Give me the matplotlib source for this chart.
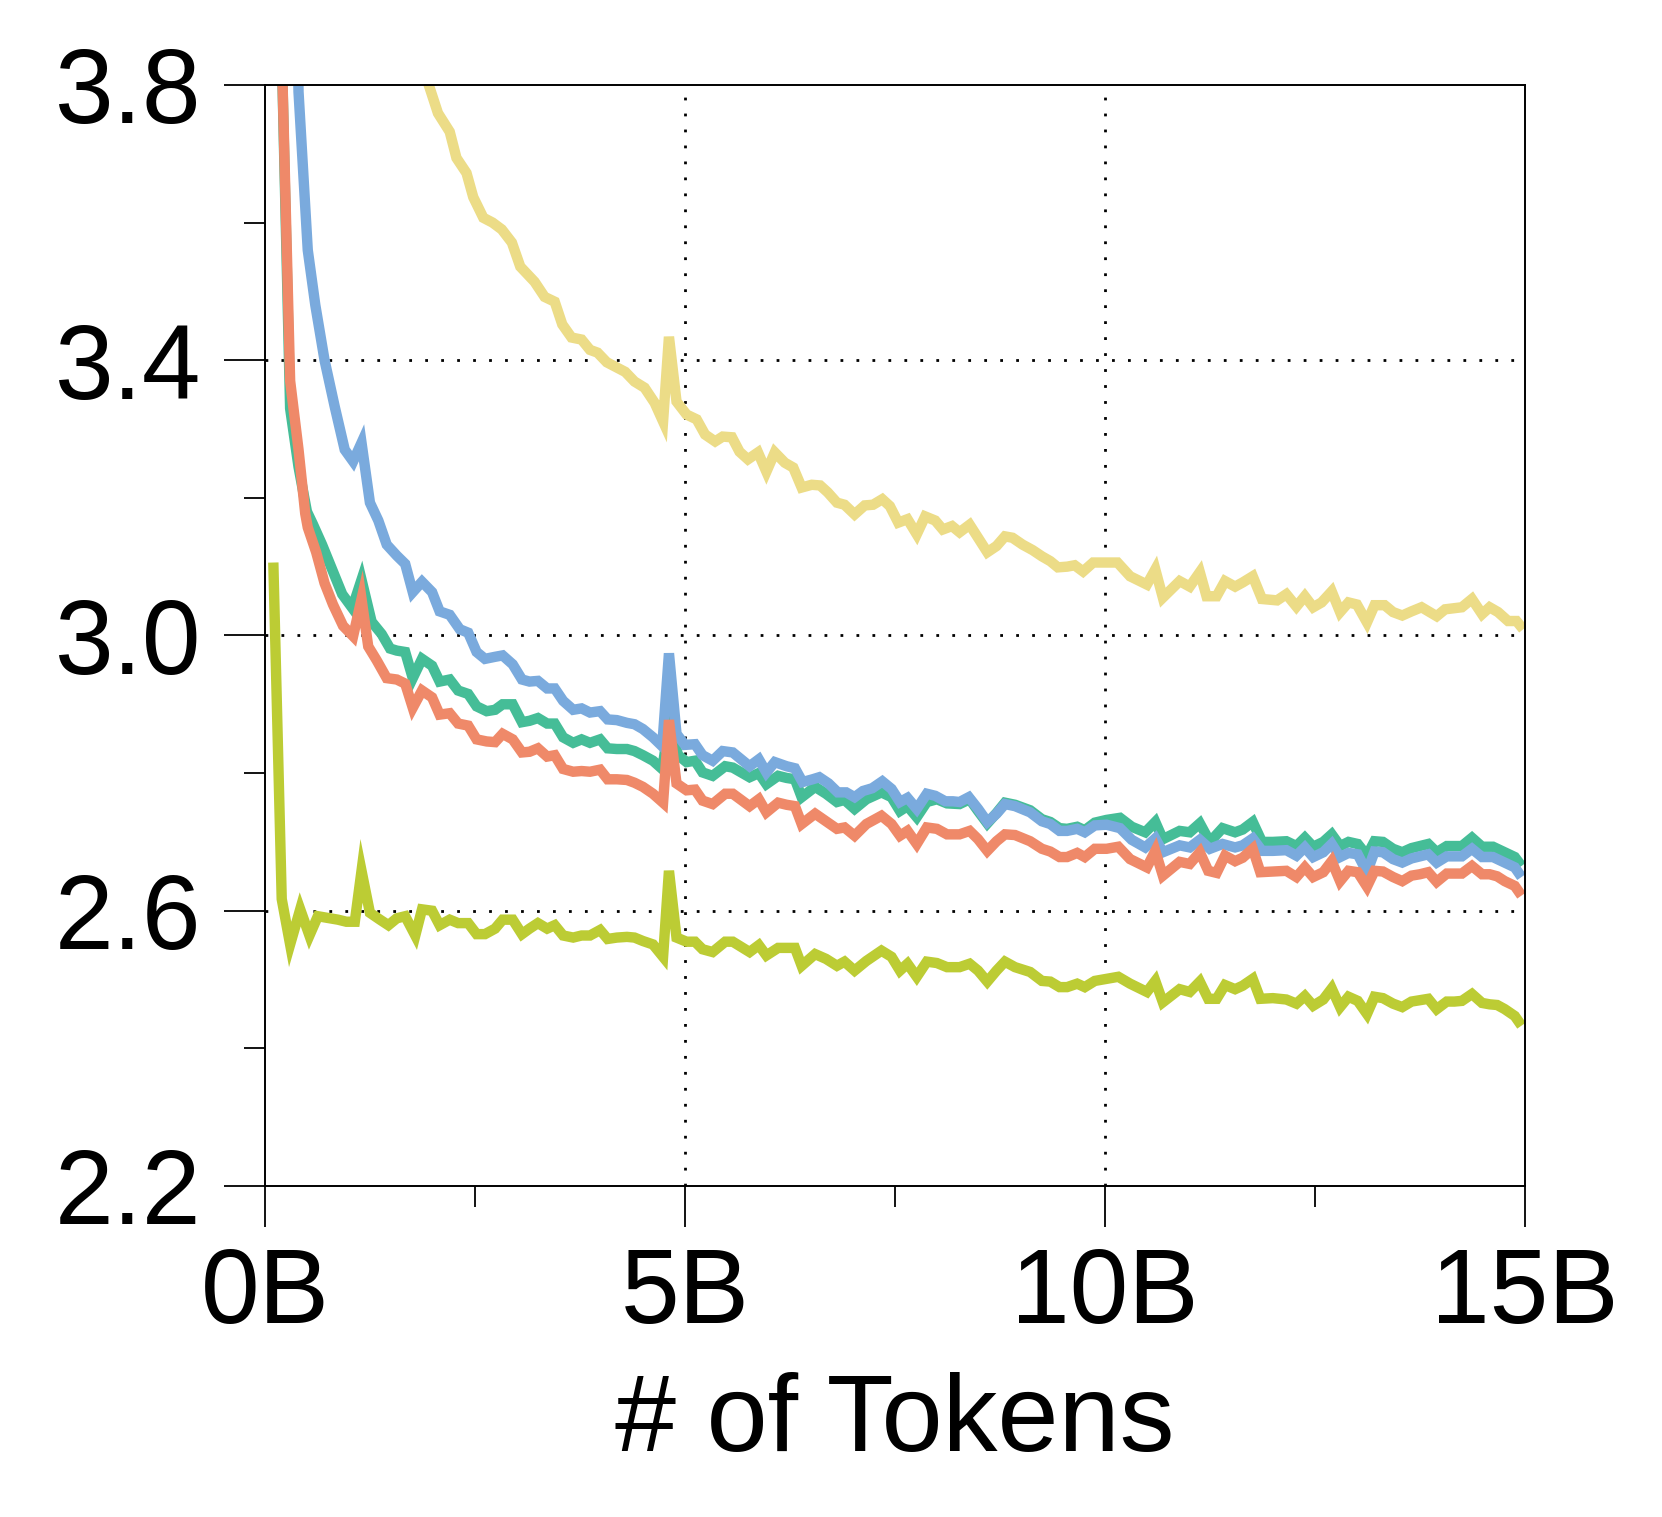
import matplotlib
matplotlib.use('Agg')
import matplotlib.pyplot as plt
from matplotlib.ticker import MultipleLocator

plt.rcParams['font.family'] = ['Liberation Sans', 'DejaVu Sans']

# loss curves (x in billions of tokens)
x_yellow = [1.76, 1.87, 2.06, 2.20, 2.28, 2.40, 2.48, 2.60, 2.71, 2.82, 2.94, 3.04, 3.21, 3.33, 3.45,
            3.54, 3.65, 3.77, 3.87, 3.96, 4.07, 4.18, 4.29, 4.40, 4.52, 4.64, 4.74, 4.81, 4.90, 5.02,
            5.14, 5.24, 5.36, 5.45, 5.56, 5.65, 5.75, 5.87, 5.97, 6.07, 6.19, 6.29, 6.39, 6.51, 6.61,
            6.70, 6.81, 6.90, 7.02, 7.14, 7.24, 7.35, 7.44, 7.54, 7.65, 7.76, 7.86, 7.98, 8.07, 8.18,
            8.27, 8.39, 8.49, 8.60, 8.71, 8.81, 8.90, 9.02, 9.14, 9.25, 9.35, 9.44, 9.55, 9.64, 9.74,
            9.86, 9.98, 10.15, 10.30, 10.50, 10.60, 10.69, 10.89, 11.01, 11.13, 11.21, 11.33, 11.43,
            11.55, 11.64, 11.76, 11.87, 12.05, 12.16, 12.28, 12.38, 12.48, 12.58, 12.70, 12.80, 12.90,
            13.00, 13.12, 13.21, 13.33, 13.43, 13.54, 13.65, 13.77, 13.95, 14.05, 14.25, 14.37, 14.49,
            14.58, 14.68, 14.80, 14.90, 14.98]
y_yellow = [3.860, 3.830, 3.759, 3.732, 3.694, 3.672, 3.637, 3.607, 3.600, 3.590, 3.571, 3.536, 3.514,
            3.492, 3.485, 3.452, 3.433, 3.430, 3.415, 3.411, 3.397, 3.390, 3.383, 3.369, 3.360, 3.338,
            3.311, 3.434, 3.340, 3.321, 3.314, 3.292, 3.282, 3.289, 3.288, 3.267, 3.256, 3.266, 3.238,
            3.266, 3.251, 3.244, 3.215, 3.219, 3.218, 3.208, 3.193, 3.190, 3.176, 3.189, 3.190, 3.198,
            3.188, 3.164, 3.169, 3.147, 3.173, 3.167, 3.154, 3.159, 3.150, 3.161, 3.142, 3.121, 3.130,
            3.144, 3.142, 3.132, 3.124, 3.115, 3.108, 3.099, 3.100, 3.102, 3.093, 3.106, 3.106, 3.106,
            3.086, 3.074, 3.096, 3.055, 3.079, 3.071, 3.092, 3.057, 3.057, 3.079, 3.071, 3.077, 3.086,
            3.053, 3.051, 3.060, 3.042, 3.057, 3.041, 3.048, 3.064, 3.034, 3.048, 3.045, 3.019, 3.044,
            3.044, 3.034, 3.029, 3.035, 3.041, 3.028, 3.038, 3.041, 3.053, 3.031, 3.041, 3.034, 3.021,
            3.021, 3.009]

x_blue = [0.30, 0.40, 0.51, 0.60, 0.71, 0.83, 0.95, 1.05, 1.15, 1.25, 1.35, 1.45, 1.57, 1.67, 1.76,
          1.87, 1.99, 2.08, 2.20, 2.32, 2.42, 2.52, 2.62, 2.74, 2.83, 2.95, 3.06, 3.15, 3.25, 3.36,
          3.45, 3.55, 3.67, 3.77, 3.87, 3.99, 4.08, 4.19, 4.31, 4.40, 4.50, 4.62, 4.73, 4.81, 4.90,
          5.00, 5.12, 5.21, 5.33, 5.45, 5.57, 5.77, 5.88, 5.97, 6.07, 6.21, 6.31, 6.40, 6.52, 6.60,
          6.71, 6.82, 6.92, 7.02, 7.12, 7.23, 7.35, 7.46, 7.56, 7.65, 7.76, 7.88, 7.98, 8.10, 8.19,
          8.27, 8.38, 8.49, 8.60, 8.71, 8.81, 8.93, 9.11, 9.25, 9.35, 9.46, 9.55, 9.67, 9.76, 9.88,
          10.02, 10.18, 10.32, 10.48, 10.60, 10.69, 10.89, 11.01, 11.13, 11.25, 11.40, 11.55, 11.64,
          11.76, 11.87, 12.00, 12.16, 12.28, 12.38, 12.48, 12.60, 12.70, 12.80, 12.90, 13.01, 13.12,
          13.21, 13.31, 13.43, 13.54, 13.65, 13.75, 13.85, 13.95, 14.07, 14.16, 14.25, 14.37, 14.49,
          14.62, 14.76, 14.88, 14.96]
y_blue = [4.600, 3.790, 3.560, 3.480, 3.400, 3.333, 3.270, 3.253, 3.280, 3.193, 3.167, 3.132, 3.116,
          3.104, 3.063, 3.078, 3.063, 3.035, 3.030, 3.009, 3.004, 2.976, 2.966, 2.969, 2.971, 2.958,
          2.936, 2.933, 2.934, 2.923, 2.923, 2.905, 2.892, 2.894, 2.888, 2.890, 2.878, 2.877, 2.873,
          2.871, 2.864, 2.852, 2.839, 2.974, 2.857, 2.841, 2.842, 2.826, 2.818, 2.832, 2.830, 2.810,
          2.820, 2.801, 2.816, 2.810, 2.807, 2.787, 2.791, 2.794, 2.785, 2.772, 2.772, 2.765, 2.774,
          2.778, 2.788, 2.777, 2.758, 2.764, 2.748, 2.770, 2.767, 2.759, 2.759, 2.758, 2.765, 2.748,
          2.729, 2.741, 2.755, 2.752, 2.743, 2.730, 2.726, 2.716, 2.716, 2.719, 2.714, 2.724, 2.725,
          2.720, 2.703, 2.692, 2.705, 2.685, 2.695, 2.692, 2.703, 2.690, 2.697, 2.692, 2.695, 2.705,
          2.687, 2.687, 2.688, 2.680, 2.692, 2.678, 2.685, 2.697, 2.678, 2.684, 2.682, 2.656, 2.686,
          2.685, 2.675, 2.670, 2.676, 2.679, 2.682, 2.670, 2.679, 2.679, 2.679, 2.690, 2.678, 2.678,
          2.670, 2.663, 2.649]

x_green = [0.10, 0.20, 0.30, 0.40, 0.50, 0.57, 0.68, 0.80, 0.92, 1.04, 1.15, 1.27, 1.39, 1.49, 1.57,
           1.67, 1.76, 1.87, 1.99, 2.08, 2.20, 2.30, 2.42, 2.52, 2.64, 2.74, 2.83, 2.95, 3.06, 3.15,
           3.25, 3.36, 3.45, 3.55, 3.67, 3.77, 3.87, 3.99, 4.08, 4.19, 4.31, 4.40, 4.50, 4.62, 4.73,
           4.81, 4.92, 5.02, 5.12, 5.21, 5.33, 5.48, 5.57, 5.77, 5.88, 5.97, 6.11, 6.21, 6.31, 6.39,
           6.55, 6.68, 6.81, 6.90, 7.02, 7.16, 7.34, 7.46, 7.56, 7.65, 7.76, 7.88, 8.00, 8.12, 8.27,
           8.39, 8.49, 8.60, 8.71, 8.81, 8.93, 9.11, 9.25, 9.35, 9.46, 9.55, 9.67, 9.76, 9.88, 10.02,
           10.18, 10.32, 10.48, 10.60, 10.69, 10.89, 11.01, 11.13, 11.25, 11.40, 11.55, 11.64, 11.76,
           11.87, 12.00, 12.16, 12.28, 12.38, 12.48, 12.60, 12.70, 12.80, 12.90, 13.01, 13.12, 13.21,
           13.31, 13.43, 13.54, 13.65, 13.75, 13.85, 13.95, 14.07, 14.16, 14.25, 14.37, 14.49, 14.62,
           14.76, 14.88, 14.96]
y_green = [6.000, 3.850, 3.330, 3.245, 3.180, 3.162, 3.132, 3.096, 3.060, 3.040, 3.081, 3.020, 3.002,
           2.981, 2.978, 2.976, 2.938, 2.966, 2.956, 2.933, 2.936, 2.920, 2.915, 2.897, 2.890, 2.892,
           2.900, 2.900, 2.874, 2.876, 2.880, 2.872, 2.872, 2.852, 2.844, 2.849, 2.844, 2.849, 2.836,
           2.835, 2.835, 2.832, 2.826, 2.818, 2.806, 2.870, 2.826, 2.816, 2.818, 2.801, 2.796, 2.810,
           2.808, 2.794, 2.800, 2.784, 2.796, 2.793, 2.791, 2.765, 2.780, 2.770, 2.758, 2.761, 2.748,
           2.762, 2.772, 2.765, 2.745, 2.752, 2.736, 2.758, 2.762, 2.756, 2.755, 2.762, 2.745, 2.727,
           2.742, 2.757, 2.754, 2.746, 2.733, 2.729, 2.720, 2.719, 2.722, 2.717, 2.728, 2.732, 2.735,
           2.722, 2.714, 2.729, 2.704, 2.716, 2.714, 2.727, 2.700, 2.720, 2.714, 2.718, 2.729, 2.700,
           2.700, 2.701, 2.694, 2.706, 2.693, 2.700, 2.711, 2.694, 2.700, 2.697, 2.680, 2.701, 2.700,
           2.690, 2.685, 2.691, 2.694, 2.697, 2.685, 2.694, 2.694, 2.694, 2.706, 2.693, 2.693, 2.685,
           2.678, 2.665]

x_orange = [0.10, 0.20, 0.30, 0.40, 0.48, 0.51, 0.61, 0.71, 0.81, 0.93, 1.05, 1.15, 1.23, 1.33, 1.45,
            1.57, 1.67, 1.76, 1.87, 1.99, 2.08, 2.20, 2.30, 2.42, 2.52, 2.64, 2.74, 2.83, 2.95, 3.06,
            3.15, 3.25, 3.36, 3.45, 3.55, 3.67, 3.77, 3.87, 3.99, 4.08, 4.19, 4.31, 4.40, 4.50, 4.62,
            4.74, 4.81, 4.90, 5.02, 5.12, 5.21, 5.33, 5.48, 5.57, 5.77, 5.88, 5.97, 6.11, 6.21, 6.31,
            6.39, 6.55, 6.68, 6.81, 6.90, 7.02, 7.16, 7.34, 7.46, 7.56, 7.65, 7.76, 7.88, 8.00, 8.12,
            8.27, 8.39, 8.49, 8.60, 8.71, 8.81, 8.93, 9.11, 9.25, 9.35, 9.46, 9.55, 9.67, 9.76, 9.88,
            10.02, 10.16, 10.30, 10.50, 10.60, 10.69, 10.89, 11.01, 11.13, 11.23, 11.33, 11.43, 11.55,
            11.64, 11.76, 11.85, 12.00, 12.16, 12.28, 12.38, 12.48, 12.60, 12.70, 12.80, 12.90, 13.01,
            13.12, 13.21, 13.31, 13.43, 13.54, 13.65, 13.75, 13.85, 13.95, 14.07, 14.16, 14.25, 14.37,
            14.49, 14.58, 14.67, 14.76, 14.88, 14.96]
y_orange = [6.000, 3.850, 3.370, 3.270, 3.177, 3.157, 3.121, 3.076, 3.045, 3.014, 2.999, 3.053, 2.984,
            2.964, 2.938, 2.936, 2.930, 2.895, 2.920, 2.910, 2.885, 2.887, 2.872, 2.869, 2.849, 2.846,
            2.845, 2.857, 2.849, 2.830, 2.831, 2.836, 2.824, 2.826, 2.806, 2.802, 2.803, 2.802, 2.805,
            2.791, 2.791, 2.790, 2.786, 2.780, 2.770, 2.757, 2.877, 2.785, 2.775, 2.776, 2.760, 2.755,
            2.770, 2.770, 2.752, 2.762, 2.743, 2.757, 2.754, 2.752, 2.726, 2.741, 2.730, 2.719, 2.721,
            2.709, 2.726, 2.738, 2.726, 2.709, 2.716, 2.697, 2.721, 2.719, 2.711, 2.711, 2.716, 2.704,
            2.687, 2.701, 2.711, 2.710, 2.701, 2.690, 2.686, 2.678, 2.678, 2.684, 2.678, 2.690, 2.690,
            2.693, 2.675, 2.663, 2.687, 2.651, 2.671, 2.668, 2.685, 2.658, 2.655, 2.680, 2.672, 2.677,
            2.690, 2.656, 2.657, 2.658, 2.649, 2.663, 2.649, 2.656, 2.672, 2.643, 2.658, 2.656, 2.635,
            2.658, 2.657, 2.649, 2.643, 2.651, 2.653, 2.656, 2.642, 2.654, 2.654, 2.654, 2.665, 2.653,
            2.653, 2.650, 2.643, 2.636, 2.622]

x_lime = [0.10, 0.20, 0.30, 0.42, 0.53, 0.63, 0.77, 0.87, 0.97, 1.07, 1.15, 1.25, 1.37, 1.47, 1.57,
          1.67, 1.79, 1.87, 1.99, 2.08, 2.20, 2.30, 2.42, 2.52, 2.62, 2.74, 2.83, 2.95, 3.06, 3.15,
          3.25, 3.36, 3.45, 3.55, 3.67, 3.77, 3.87, 3.99, 4.08, 4.19, 4.31, 4.40, 4.50, 4.62, 4.74,
          4.81, 4.90, 5.02, 5.12, 5.21, 5.33, 5.48, 5.57, 5.77, 5.88, 5.97, 6.11, 6.21, 6.31, 6.39,
          6.55, 6.68, 6.81, 6.90, 7.02, 7.16, 7.34, 7.46, 7.56, 7.65, 7.76, 7.88, 8.00, 8.12, 8.27,
          8.39, 8.49, 8.60, 8.71, 8.81, 8.93, 9.11, 9.25, 9.35, 9.46, 9.55, 9.67, 9.76, 9.88, 10.02,
          10.16, 10.30, 10.50, 10.60, 10.69, 10.89, 11.01, 11.13, 11.23, 11.33, 11.43, 11.55, 11.64,
          11.76, 11.85, 12.00, 12.16, 12.28, 12.38, 12.48, 12.60, 12.70, 12.80, 12.90, 13.01, 13.12,
          13.21, 13.31, 13.43, 13.54, 13.65, 13.75, 13.85, 13.95, 14.07, 14.16, 14.25, 14.37, 14.49,
          14.58, 14.67, 14.76, 14.88, 14.96]
y_lime = [3.106, 2.617, 2.551, 2.602, 2.564, 2.592, 2.589, 2.587, 2.584, 2.584, 2.658, 2.597, 2.587,
          2.579, 2.589, 2.592, 2.564, 2.602, 2.600, 2.579, 2.587, 2.582, 2.582, 2.566, 2.566, 2.574,
          2.587, 2.587, 2.566, 2.574, 2.582, 2.574, 2.579, 2.564, 2.561, 2.564, 2.564, 2.572, 2.559,
          2.561, 2.562, 2.561, 2.556, 2.551, 2.533, 2.658, 2.561, 2.555, 2.555, 2.544, 2.540, 2.555,
          2.555, 2.540, 2.550, 2.535, 2.546, 2.546, 2.546, 2.520, 2.537, 2.530, 2.520, 2.526, 2.513,
          2.527, 2.542, 2.533, 2.513, 2.523, 2.504, 2.526, 2.524, 2.518, 2.518, 2.523, 2.513, 2.497,
          2.513, 2.526, 2.518, 2.511, 2.498, 2.497, 2.489, 2.489, 2.494, 2.489, 2.498, 2.501, 2.504,
          2.494, 2.482, 2.498, 2.467, 2.486, 2.482, 2.497, 2.472, 2.472, 2.492, 2.486, 2.491, 2.501,
          2.472, 2.473, 2.471, 2.465, 2.476, 2.462, 2.471, 2.487, 2.460, 2.475, 2.469, 2.450, 2.475,
          2.473, 2.465, 2.460, 2.468, 2.470, 2.472, 2.457, 2.468, 2.468, 2.469, 2.479, 2.466, 2.464,
          2.463, 2.457, 2.447, 2.433]

x_ticks = [0, 5, 10, 15]
x_ticklabels = ['0B', '5B', '10B', '15B']
y_ticks = [2.2, 2.6, 3.0, 3.4, 3.8]
y_ticklabels = ['2.2', '2.6', '3.0', '3.4', '3.8']
x_grid = [5, 10]
y_grid = [2.6, 3.0, 3.4]

fig = plt.figure(figsize=(16.62, 15.17), dpi=100)
ax = fig.add_axes([0.1594, 0.2182, 0.7581, 0.7258])

# dotted grid only inside the box
grid_style = dict(color='k', linestyle=(0, (1, 4.75)), linewidth=2, zorder=1)
for gx in x_grid:
    ax.axvline(gx, **grid_style)
for gy in y_grid:
    ax.axhline(gy, **grid_style)

curves = [
    (x_yellow, y_yellow, '#ecdc87'),
    (x_green, y_green, '#45bd97'),
    (x_blue, y_blue, '#7aaadd'),
    (x_orange, y_orange, '#ef8969'),
    (x_lime, y_lime, '#bccc34'),
]
for xs, ys, c in curves:
    ax.plot(xs, ys, color=c, lw=7.5, solid_joinstyle='miter', solid_capstyle='butt', zorder=2)

ax.set_xlim(0, 15)
ax.set_ylim(2.2, 3.8)
ax.set_xticks(x_ticks)
ax.set_xticklabels(x_ticklabels)
ax.set_yticks(y_ticks)
ax.set_yticklabels(y_ticklabels)
ax.xaxis.set_minor_locator(MultipleLocator(2.5))
ax.yaxis.set_minor_locator(MultipleLocator(0.2))

ax.tick_params(which='major', direction='out', length=29.5, width=1.3, labelsize=76)
ax.tick_params(axis='y', which='major', pad=16)
ax.tick_params(axis='x', which='major', pad=14)
ax.tick_params(which='minor', direction='out', length=15, width=1.3)
for sp in ax.spines.values():
    sp.set_linewidth(1.4)

ax.set_xlabel('# of Tokens', fontsize=79, labelpad=19)

fig.savefig('out.png', dpi=100)
